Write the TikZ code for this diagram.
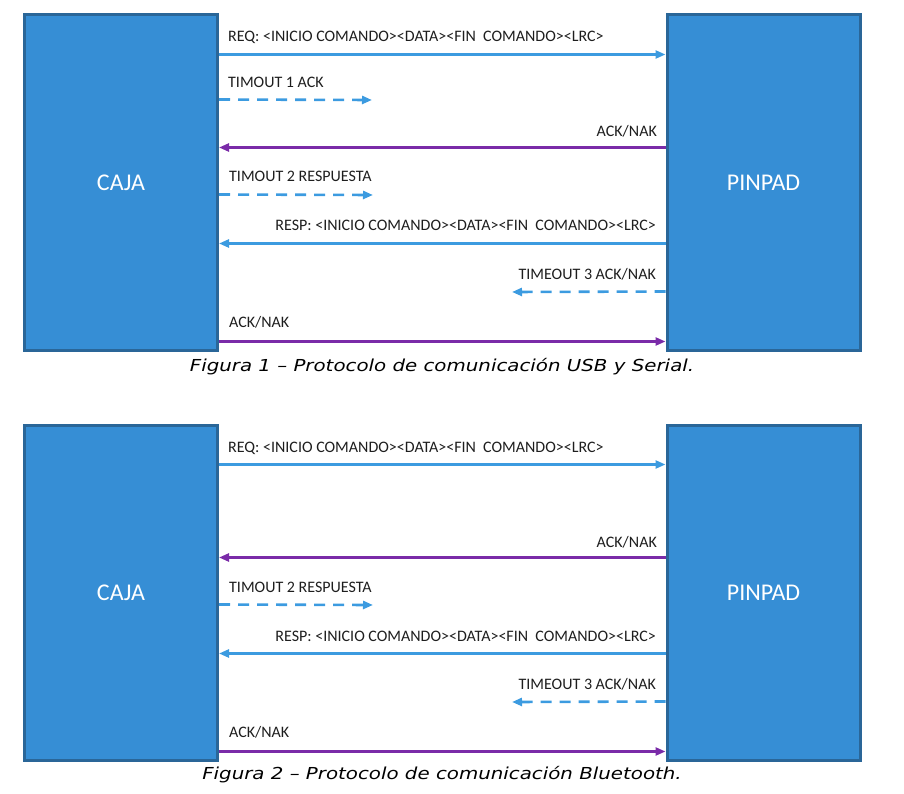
\documentclass[tikz,border=0pt]{standalone}
\usepackage{fontspec}
\setmainfont{Carlito}
\newfontfamily\capfont[FakeStretch=1.2]{DejaVu Sans}
\usetikzlibrary{arrows.meta}
\definecolor{boxfill}{HTML}{368ED5}
\definecolor{boxedge}{HTML}{2A6698}
\definecolor{arrblue}{HTML}{3C9BE0}
\definecolor{arrpurple}{HTML}{7A2BA8}
\definecolor{labtext}{HTML}{1E1E1E}
\tikzset{
  party/.style={draw=boxedge, line width=3pt, fill=boxfill, minimum width=193pt, minimum height=335pt, inner sep=0pt, text=white, font=\fontsize{24}{28}\selectfont},
  msgblue/.style={draw=arrblue, line width=2.4pt, -{Triangle[length=10pt,width=8pt]}},
  msgpurple/.style={draw=arrpurple, line width=2.4pt, -{Triangle[length=10pt,width=8pt]}},
  tmo/.style={draw=arrblue, line width=2.6pt, dash pattern=on 11pt off 8pt, -{Triangle[length=10pt,width=8pt]}},
  lab/.style={text=labtext, font=\fontsize{16}{18}\selectfont, inner sep=0pt},
  labl/.style={lab, anchor=base west},
  labr/.style={lab, anchor=base east},
  caption/.style={font=\capfont\itshape\fontsize{16.5}{19}\selectfont, text=black, inner sep=0pt, anchor=base}
}
\begin{document}
\begin{tikzpicture}[x=1pt,y=-1pt]
\useasboundingbox (0,0) rectangle (904,794);
% ---------- Figure 1 ----------
\node[party] (caja1) at (121,182.5) {CAJA};
\node[party] (pin1) at (763.5,182.5) {PINPAD};
\coordinate (t1) at (372,100);
\coordinate (t2) at (373,195);
\coordinate (t3) at (512,292);
\draw[msgblue] ([yshift=-41pt]caja1.north east) -- ([yshift=-41pt]pin1.north west);
\draw[tmo] ([yshift=-86pt]caja1.north east) -- (t1);
\draw[msgpurple] ([yshift=-134pt]pin1.north west) -- ([yshift=-134pt]caja1.north east);
\draw[tmo] ([yshift=-181pt]caja1.north east) -- (t2);
\draw[msgblue] ([yshift=-230pt]pin1.north west) -- ([yshift=-230pt]caja1.north east);
\draw[tmo] ([yshift=-278pt]pin1.north west) -- (t3);
\draw[msgpurple] ([yshift=-328pt]caja1.north east) -- ([yshift=-328pt]pin1.north west);
\node[labl] (l1) at (228,42) {REQ: <INICIO COMANDO><DATA><FIN\ \ COMANDO><LRC>};
\node[labl] (l2) at (228,88) {TIMOUT 1 ACK};
\node[labr] (l3) at (657,137) {ACK/NAK};
\node[labl] (l4) at (229,182) {TIMOUT 2 RESPUESTA};
\node[labr] (l5) at (656,231) {RESP: <INICIO COMANDO><DATA><FIN\ \ COMANDO><LRC>};
\node[labr] (l6) at (656,279) {TIMEOUT 3 ACK/NAK};
\node[labl] (l7) at (229,327) {ACK/NAK};
\node[caption] (c1) at (442,371) {Figura 1 – Protocolo de comunicación USB y Serial.};
% ---------- Figure 2 ----------
\node[party] (caja2) at (121,592.5) {CAJA};
\node[party] (pin2) at (763.5,592.5) {PINPAD};
\coordinate (u2) at (373,605);
\coordinate (u3) at (512,702);
\draw[msgblue] ([yshift=-41pt]caja2.north east) -- ([yshift=-41pt]pin2.north west);
\draw[msgpurple] ([yshift=-134pt]pin2.north west) -- ([yshift=-134pt]caja2.north east);
\draw[tmo] ([yshift=-181pt]caja2.north east) -- (u2);
\draw[msgblue] ([yshift=-230pt]pin2.north west) -- ([yshift=-230pt]caja2.north east);
\draw[tmo] ([yshift=-278pt]pin2.north west) -- (u3);
\draw[msgpurple] ([yshift=-328pt]caja2.north east) -- ([yshift=-328pt]pin2.north west);
\node[labl] (m1) at (228,452) {REQ: <INICIO COMANDO><DATA><FIN\ \ COMANDO><LRC>};
\node[labr] (m3) at (657,547) {ACK/NAK};
\node[labl] (m4) at (229,592) {TIMOUT 2 RESPUESTA};
\node[labr] (m5) at (656,641) {RESP: <INICIO COMANDO><DATA><FIN\ \ COMANDO><LRC>};
\node[labr] (m6) at (656,689) {TIMEOUT 3 ACK/NAK};
\node[labl] (m7) at (229,737) {ACK/NAK};
\node[caption] (c2) at (442,779) {Figura 2 – Protocolo de comunicación Bluetooth.};
\end{tikzpicture}
\end{document}
